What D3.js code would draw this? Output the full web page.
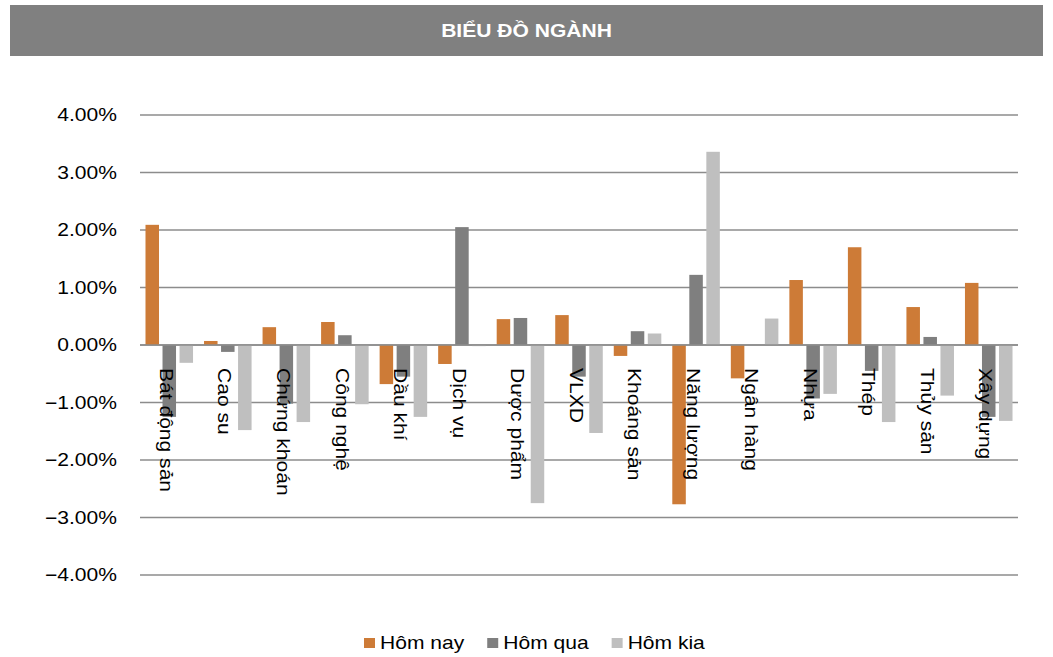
<!DOCTYPE html>
<html lang="vi">
  <head>
    <meta charset="utf-8" />
    <title>Biểu đồ ngành</title>
    <script src="https://cdnjs.cloudflare.com/ajax/libs/d3/7.8.5/d3.min.js"></script>
    <style>
      body { margin: 0; background: #fff; }
      svg { display: block; font-family: "Liberation Sans", Arial, sans-serif; }
    </style>
  </head>
  <body>
    <script>
      // data (percent)
      const categories = ["Bát động sản", "Cao su", "Chứng khoán", "Công nghệ", "Dầu khí", "Dịch vụ",
        "Dược phẩm", "VLXD", "Khoáng sản", "Năng lượng", "Ngân hàng", "Nhựa", "Thép", "Thủy sản", "Xây dựng"];
      const seriesNames = ["Hôm nay", "Hôm qua", "Hôm kia"];
      const homNay = [2.09, 0.07, 0.31, 0.40, -0.68, -0.33, 0.45, 0.52, -0.19, -2.77, -0.58, 1.13, 1.70, 0.66, 1.08];
      const homQua = [-1.25, -0.12, -1.02, 0.17, -0.55, 2.05, 0.47, -0.55, 0.24, 1.22, 0.00, -0.93, -0.45, 0.14, -1.25];
      const homKia = [-0.31, -1.48, -1.34, -1.03, -1.25, -0.02, -2.75, -1.53, 0.20, 3.36, 0.46, -0.85, -1.34, -0.88, -1.32];
      const yTicks = [4, 3, 2, 1, 0, -1, -2, -3, -4];
      const title = "BIỂU ĐỒ NGÀNH";

      const width = 1053;
      const height = 657;
      const marginTop = 115;
      const marginBottom = 82;
      const marginLeft = 140;
      const marginRight = 35;
      const sx = 1.17; // the picture's font runs a bit wide

      const colors = ["#CD7B37", "#7F7F7F", "#BFBFBF"];
      const seriesValues = [homNay, homQua, homKia];

      const rows = categories.map((c, i) => ({
        cat: c,
        vals: seriesNames.map((s, j) => ({ s, v: seriesValues[j][i] }))
      }));

      const svg = d3.select("body").append("svg")
        .attr("width", width)
        .attr("height", height)
        .attr("viewBox", [0, 0, width, height]);

      // header band
      svg.append("rect")
        .attr("x", 10).attr("y", 5)
        .attr("width", width - 20).attr("height", 51)
        .attr("fill", "#808080");
      svg.append("text")
        .attr("transform", `translate(${width / 2},31) scale(${sx},1)`)
        .attr("text-anchor", "middle")
        .attr("dy", "0.35em")
        .attr("fill", "#fff")
        .attr("font-weight", "bold")
        .attr("font-size", 18)
        .text(title);

      const x = d3.scaleBand()
        .domain(categories)
        .range([marginLeft, width - marginRight]);

      const xs = d3.scaleBand()
        .domain(seriesNames)
        .range([0, x.bandwidth()])
        .paddingInner(0.206)
        .paddingOuter(0.323);

      const y = d3.scaleLinear()
        .domain([-4, 4])
        .range([height - marginBottom, marginTop]);

      const color = d3.scaleOrdinal(seriesNames, colors);

      // gridlines
      svg.append("g")
        .selectAll("line")
        .data(yTicks)
        .join("line")
        .attr("x1", marginLeft)
        .attr("x2", width - marginRight)
        .attr("y1", d => y(d))
        .attr("y2", d => y(d))
        .attr("stroke", "#8C8C8C")
        .attr("stroke-width", 1.5);

      // y labels
      svg.append("g")
        .selectAll("text")
        .data(yTicks)
        .join("text")
        .attr("transform", d => `translate(${marginLeft - 23},${y(d)}) scale(${sx},1)`)
        .attr("text-anchor", "end")
        .attr("dy", "0.35em")
        .attr("font-size", 18)
        .attr("fill", "#000")
        .text(d => d3.format(".2f")(d) + "%");

      // bars
      svg.append("g")
        .selectAll("g")
        .data(rows)
        .join("g")
        .attr("transform", d => `translate(${x(d.cat)},0)`)
        .selectAll("rect")
        .data(d => d.vals)
        .join("rect")
        .attr("x", d => xs(d.s))
        .attr("width", xs.bandwidth())
        .attr("y", d => y(Math.max(0, d.v)))
        .attr("height", d => Math.abs(y(d.v) - y(0)))
        .attr("fill", d => color(d.s));

      // zero line on top
      svg.append("line")
        .attr("x1", marginLeft)
        .attr("x2", width - marginRight)
        .attr("y1", y(0))
        .attr("y2", y(0))
        .attr("stroke", "#8C8C8C")
        .attr("stroke-width", 1.5);

      // category labels, rotated, drawn over the bars
      svg.append("g")
        .selectAll("text")
        .data(categories)
        .join("text")
        .attr("transform", d => `translate(${x(d) + x.bandwidth() / 2 - 3},${y(0) + 23}) rotate(90) scale(${sx},1)`)
        .attr("dy", "0.35em")
        .attr("font-size", 18)
        .attr("fill", "#000")
        .text(d => d);

      // legend
      const legend = svg.append("g");
      let lx = 364;
      seriesNames.forEach((s, i) => {
        legend.append("rect")
          .attr("x", lx).attr("y", 638)
          .attr("width", 11).attr("height", 10)
          .attr("fill", colors[i]);
        const t = legend.append("text")
          .attr("transform", `translate(${lx + 16},649) scale(${sx},1)`)
          .attr("font-size", 18)
          .attr("fill", "#000")
          .text(s);
        lx += 16 + t.node().getComputedTextLength() * sx + 23;
      });
    </script>
  </body>
</html>
